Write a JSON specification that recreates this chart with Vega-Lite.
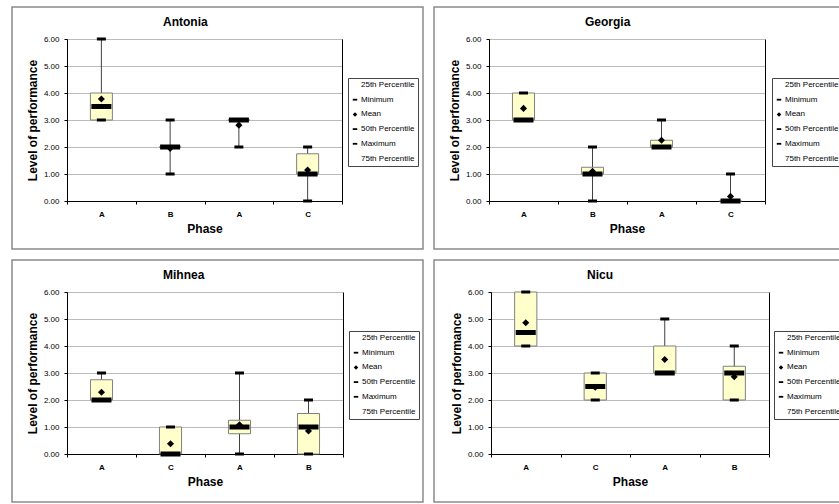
{
  "$schema": "https://vega.github.io/schema/vega-lite/v6.json",
  "background": "white",
  "padding": {"left": 11, "top": 6, "right": 0, "bottom": 0},
  "datasets": {
    "stats": [
      {"p": "Antonia", "k": "A1", "min": 3, "q1": 3, "med": 3.5, "mean": 3.78, "q3": 4, "max": 6},
      {"p": "Antonia", "k": "B", "min": 1, "q1": 2, "med": 2, "mean": 1.95, "q3": 2, "max": 3},
      {"p": "Antonia", "k": "A2", "min": 2, "q1": 3, "med": 3, "mean": 2.81, "q3": 3, "max": 3},
      {"p": "Antonia", "k": "C", "min": 0, "q1": 1, "med": 1, "mean": 1.15, "q3": 1.75, "max": 2},
      {"p": "Georgia", "k": "A1", "min": 3, "q1": 3, "med": 3, "mean": 3.43, "q3": 4, "max": 4},
      {"p": "Georgia", "k": "B", "min": 0, "q1": 1, "med": 1, "mean": 1.1, "q3": 1.25, "max": 2},
      {"p": "Georgia", "k": "A2", "min": 2, "q1": 2, "med": 2, "mean": 2.25, "q3": 2.25, "max": 3},
      {"p": "Georgia", "k": "C", "min": 0, "q1": 0, "med": 0, "mean": 0.17, "q3": 0, "max": 1},
      {"p": "Mihnea", "k": "A1", "min": 2, "q1": 2, "med": 2, "mean": 2.29, "q3": 2.75, "max": 3},
      {"p": "Mihnea", "k": "C", "min": 0, "q1": 0, "med": 0, "mean": 0.38, "q3": 1, "max": 1},
      {"p": "Mihnea", "k": "A2", "min": 0, "q1": 0.75, "med": 1, "mean": 1.08, "q3": 1.25, "max": 3},
      {"p": "Mihnea", "k": "B", "min": 0, "q1": 0, "med": 1, "mean": 0.85, "q3": 1.5, "max": 2},
      {"p": "Nicu", "k": "A1", "min": 4, "q1": 4, "med": 4.5, "mean": 4.86, "q3": 6, "max": 6},
      {"p": "Nicu", "k": "C", "min": 2, "q1": 2, "med": 2.5, "mean": 2.47, "q3": 3, "max": 3},
      {"p": "Nicu", "k": "A2", "min": 3, "q1": 3, "med": 3, "mean": 3.5, "q3": 4, "max": 5},
      {"p": "Nicu", "k": "B", "min": 2, "q1": 2, "med": 3, "mean": 2.86, "q3": 3.25, "max": 4}
    ]
  },
  "data": {"name": "stats"},
  "columns": 2,
  "spacing": 11,
  "bounds": "flush",
  "resolve": {"scale": {"shape": "independent"}, "legend": {"shape": "independent"}},
  "concat": [
    {
      "width": 411, "height": 242,
      "title": {"text": "Antonia", "dx": 151},
      "transform": [{"filter": "datum.p == 'Antonia'"}],
      "encoding": {"x": {"field": "k", "type": "nominal", "scale": {"domain": ["A1", "B", "A2", "C"], "range": [55, 330], "paddingInner": 0, "paddingOuter": 0}, "axis": {"title": "Phase", "labelExpr": "substring(datum.label,0,1)", "offset": -48}}},
      "resolve": {"axis": {"y": "independent"}},
      "layer": [
        {"mark": {"type": "rule", "color": "#404040"}, "encoding": {"y": {"field": "min", "type": "quantitative", "scale": {"domain": [0, 6], "range": [194, 32]}, "axis": {"title": "Level of performance", "offset": -55}}, "y2": {"field": "max"}}},
        {"mark": {"type": "bar", "fill": "#FFFFCC", "stroke": "#808080", "strokeWidth": 1, "width": {"band": 0.32}}, "encoding": {"y": {"field": "q1", "type": "quantitative", "scale": {"domain": [0, 6], "range": [194, 32]}, "axis": {"orient": "right", "offset": -81, "labels": false, "ticks": false, "grid": false, "title": null}}, "y2": {"field": "q3"}}},
        {"mark": {"type": "tick", "color": "black", "size": 20, "thickness": 5, "opacity": 1}, "encoding": {"y": {"field": "med", "type": "quantitative", "scale": {"domain": [0, 6], "range": [194, 32]}, "axis": null}}},
        {"mark": {"type": "tick", "color": "black", "size": 9, "thickness": 3, "opacity": 1}, "encoding": {"y": {"field": "min", "type": "quantitative", "scale": {"domain": [0, 6], "range": [194, 32]}, "axis": null}}},
        {"mark": {"type": "tick", "color": "black", "size": 9, "thickness": 3, "opacity": 1}, "encoding": {"y": {"field": "max", "type": "quantitative", "scale": {"domain": [0, 6], "range": [194, 32]}, "axis": null}}},
        {"mark": {"type": "point", "filled": true, "color": "black", "size": 50, "opacity": 1}, "encoding": {"y": {"field": "mean", "type": "quantitative", "scale": {"domain": [0, 6], "range": [194, 32]}, "axis": null}, "shape": {"datum": "Mean", "type": "nominal", "scale": {"domain": ["25th Percentile", "Minimum", "Mean", "50th Percentile", "Maximum", "75th Percentile"], "range": ["M0,0", "M-1,-0.4H1V0.4H-1Z", "diamond", "M-1,-0.4H1V0.4H-1Z", "M-1,-0.4H1V0.4H-1Z", "M0,0"]}, "legend": {"orient": "none", "legendX": 336, "legendY": 71}}}}
      ]
    },
    {
      "width": 411, "height": 242,
      "title": {"text": "Georgia", "dx": 151},
      "transform": [{"filter": "datum.p == 'Georgia'"}],
      "encoding": {"x": {"field": "k", "type": "nominal", "scale": {"domain": ["A1", "B", "A2", "C"], "range": [55, 331], "paddingInner": 0, "paddingOuter": 0}, "axis": {"title": "Phase", "labelExpr": "substring(datum.label,0,1)", "offset": -48}}},
      "resolve": {"axis": {"y": "independent"}},
      "layer": [
        {"mark": {"type": "rule", "color": "#404040"}, "encoding": {"y": {"field": "min", "type": "quantitative", "scale": {"domain": [0, 6], "range": [194, 32]}, "axis": {"title": "Level of performance", "offset": -55}}, "y2": {"field": "max"}}},
        {"mark": {"type": "bar", "fill": "#FFFFCC", "stroke": "#808080", "strokeWidth": 1, "width": {"band": 0.32}}, "encoding": {"y": {"field": "q1", "type": "quantitative", "scale": {"domain": [0, 6], "range": [194, 32]}, "axis": {"orient": "right", "offset": -80, "labels": false, "ticks": false, "grid": false, "title": null}}, "y2": {"field": "q3"}}},
        {"mark": {"type": "tick", "color": "black", "size": 20, "thickness": 5, "opacity": 1}, "encoding": {"y": {"field": "med", "type": "quantitative", "scale": {"domain": [0, 6], "range": [194, 32]}, "axis": null}}},
        {"mark": {"type": "tick", "color": "black", "size": 9, "thickness": 3, "opacity": 1}, "encoding": {"y": {"field": "min", "type": "quantitative", "scale": {"domain": [0, 6], "range": [194, 32]}, "axis": null}}},
        {"mark": {"type": "tick", "color": "black", "size": 9, "thickness": 3, "opacity": 1}, "encoding": {"y": {"field": "max", "type": "quantitative", "scale": {"domain": [0, 6], "range": [194, 32]}, "axis": null}}},
        {"mark": {"type": "point", "filled": true, "color": "black", "size": 50, "opacity": 1}, "encoding": {"y": {"field": "mean", "type": "quantitative", "scale": {"domain": [0, 6], "range": [194, 32]}, "axis": null}, "shape": {"datum": "Mean", "type": "nominal", "scale": {"domain": ["25th Percentile", "Minimum", "Mean", "50th Percentile", "Maximum", "75th Percentile"], "range": ["M0,0", "M-1,-0.4H1V0.4H-1Z", "diamond", "M-1,-0.4H1V0.4H-1Z", "M-1,-0.4H1V0.4H-1Z", "M0,0"]}, "legend": {"orient": "none", "legendX": 338, "legendY": 71}}}}
      ]
    },
    {
      "width": 411, "height": 242,
      "title": {"text": "Mihnea", "dx": 151},
      "transform": [{"filter": "datum.p == 'Mihnea'"}],
      "encoding": {"x": {"field": "k", "type": "nominal", "scale": {"domain": ["A1", "C", "A2", "B"], "range": [55, 331], "paddingInner": 0, "paddingOuter": 0}, "axis": {"title": "Phase", "labelExpr": "substring(datum.label,0,1)", "offset": -48}}},
      "resolve": {"axis": {"y": "independent"}},
      "layer": [
        {"mark": {"type": "rule", "color": "#404040"}, "encoding": {"y": {"field": "min", "type": "quantitative", "scale": {"domain": [0, 6], "range": [194, 32]}, "axis": {"title": "Level of performance", "offset": -55}}, "y2": {"field": "max"}}},
        {"mark": {"type": "bar", "fill": "#FFFFCC", "stroke": "#808080", "strokeWidth": 1, "width": {"band": 0.32}}, "encoding": {"y": {"field": "q1", "type": "quantitative", "scale": {"domain": [0, 6], "range": [194, 32]}, "axis": {"orient": "right", "offset": -80, "labels": false, "ticks": false, "grid": false, "title": null}}, "y2": {"field": "q3"}}},
        {"mark": {"type": "tick", "color": "black", "size": 20, "thickness": 5, "opacity": 1}, "encoding": {"y": {"field": "med", "type": "quantitative", "scale": {"domain": [0, 6], "range": [194, 32]}, "axis": null}}},
        {"mark": {"type": "tick", "color": "black", "size": 9, "thickness": 3, "opacity": 1}, "encoding": {"y": {"field": "min", "type": "quantitative", "scale": {"domain": [0, 6], "range": [194, 32]}, "axis": null}}},
        {"mark": {"type": "tick", "color": "black", "size": 9, "thickness": 3, "opacity": 1}, "encoding": {"y": {"field": "max", "type": "quantitative", "scale": {"domain": [0, 6], "range": [194, 32]}, "axis": null}}},
        {"mark": {"type": "point", "filled": true, "color": "black", "size": 50, "opacity": 1}, "encoding": {"y": {"field": "mean", "type": "quantitative", "scale": {"domain": [0, 6], "range": [194, 32]}, "axis": null}, "shape": {"datum": "Mean", "type": "nominal", "scale": {"domain": ["25th Percentile", "Minimum", "Mean", "50th Percentile", "Maximum", "75th Percentile"], "range": ["M0,0", "M-1,-0.4H1V0.4H-1Z", "diamond", "M-1,-0.4H1V0.4H-1Z", "M-1,-0.4H1V0.4H-1Z", "M0,0"]}, "legend": {"orient": "none", "legendX": 337, "legendY": 71}}}}
      ]
    },
    {
      "width": 411, "height": 242,
      "title": {"text": "Nicu", "dx": 153},
      "transform": [{"filter": "datum.p == 'Nicu'"}],
      "encoding": {"x": {"field": "k", "type": "nominal", "scale": {"domain": ["A1", "C", "A2", "B"], "range": [57, 335], "paddingInner": 0, "paddingOuter": 0}, "axis": {"title": "Phase", "labelExpr": "substring(datum.label,0,1)", "offset": -48}}},
      "resolve": {"axis": {"y": "independent"}},
      "layer": [
        {"mark": {"type": "rule", "color": "#404040"}, "encoding": {"y": {"field": "min", "type": "quantitative", "scale": {"domain": [0, 6], "range": [194, 32]}, "axis": {"title": "Level of performance", "offset": -57}}, "y2": {"field": "max"}}},
        {"mark": {"type": "bar", "fill": "#FFFFCC", "stroke": "#808080", "strokeWidth": 1, "width": {"band": 0.32}}, "encoding": {"y": {"field": "q1", "type": "quantitative", "scale": {"domain": [0, 6], "range": [194, 32]}, "axis": {"orient": "right", "offset": -76, "labels": false, "ticks": false, "grid": false, "title": null}}, "y2": {"field": "q3"}}},
        {"mark": {"type": "tick", "color": "black", "size": 20, "thickness": 5, "opacity": 1}, "encoding": {"y": {"field": "med", "type": "quantitative", "scale": {"domain": [0, 6], "range": [194, 32]}, "axis": null}}},
        {"mark": {"type": "tick", "color": "black", "size": 9, "thickness": 3, "opacity": 1}, "encoding": {"y": {"field": "min", "type": "quantitative", "scale": {"domain": [0, 6], "range": [194, 32]}, "axis": null}}},
        {"mark": {"type": "tick", "color": "black", "size": 9, "thickness": 3, "opacity": 1}, "encoding": {"y": {"field": "max", "type": "quantitative", "scale": {"domain": [0, 6], "range": [194, 32]}, "axis": null}}},
        {"mark": {"type": "point", "filled": true, "color": "black", "size": 50, "opacity": 1}, "encoding": {"y": {"field": "mean", "type": "quantitative", "scale": {"domain": [0, 6], "range": [194, 32]}, "axis": null}, "shape": {"datum": "Mean", "type": "nominal", "scale": {"domain": ["25th Percentile", "Minimum", "Mean", "50th Percentile", "Maximum", "75th Percentile"], "range": ["M0,0", "M-1,-0.4H1V0.4H-1Z", "diamond", "M-1,-0.4H1V0.4H-1Z", "M-1,-0.4H1V0.4H-1Z", "M0,0"]}, "legend": {"orient": "none", "legendX": 340, "legendY": 71}}}}
      ]
    }
  ],
  "config": {
    "font": "Liberation Sans",
    "view": {"stroke": "#8a8a8a", "strokeWidth": 1.5},
    "title": {"anchor": "start", "frame": "group", "offset": -22, "fontSize": 12, "fontWeight": "bold", "color": "black"},
    "axisX": {"labelFontWeight": "bold", "labelFontSize": 8, "labelAngle": 0, "labelColor": "black", "tickBand": "extent", "tickSize": 3, "tickColor": "black", "labelPadding": 6, "domainColor": "black", "titleFontSize": 12, "titleFontWeight": "bold", "titleColor": "black", "titlePadding": 5, "grid": false},
    "axisY": {"values": [0, 1, 2, 3, 4, 5, 6], "format": ".2f", "labelFontSize": 8, "labelColor": "black", "tickSize": 3, "tickColor": "black", "labelPadding": 5, "domainColor": "black", "grid": true, "gridColor": "#777777", "gridDash": [1, 1], "titleFontSize": 12, "titleFontWeight": "bold", "titleColor": "black", "titlePadding": 4},
    "legend": {"title": null, "labelFontSize": 8, "labelColor": "black", "symbolSize": 20, "symbolFillColor": "black", "symbolStrokeColor": "black", "symbolStrokeWidth": 0, "rowPadding": 6.7, "padding": 3, "strokeColor": "#444444", "fillColor": "white", "labelOffset": 2, "labelExpr": "datum.label == '25th Percentile' || datum.label == '75th Percentile' ? '\u00a0\u00a0' + datum.label : datum.label"}
  }
}
